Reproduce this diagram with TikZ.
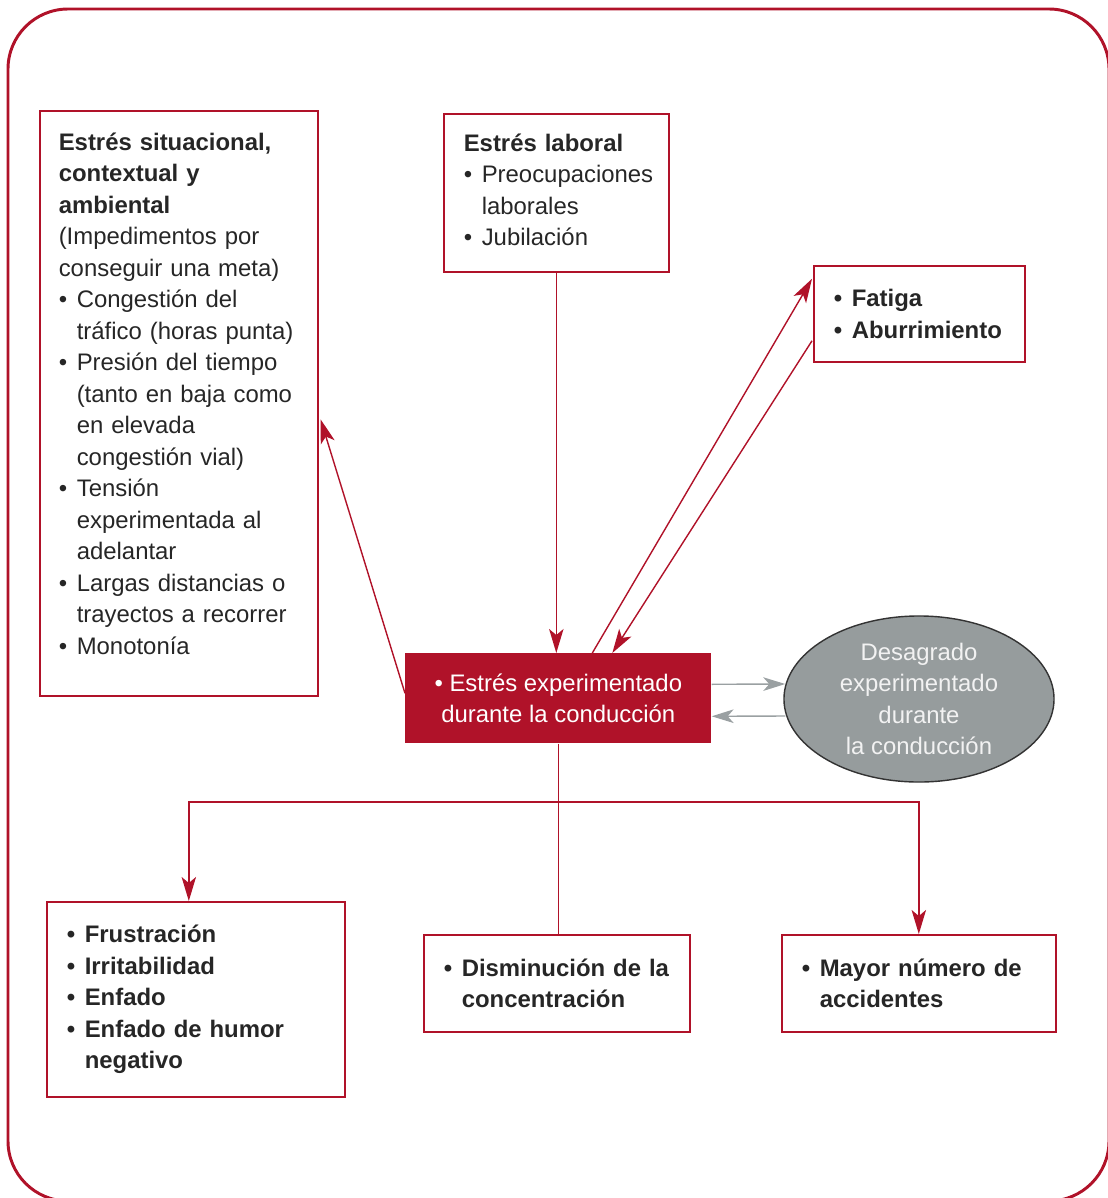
\documentclass[tikz,border=0pt]{standalone}
\usepackage{fontspec}
\setmainfont{Liberation Sans}
\usepackage{tikz}
\usetikzlibrary{calc,shapes.geometric,arrows.meta}

\definecolor{estred}{HTML}{B01229}
\definecolor{estgray}{HTML}{969C9D}
\definecolor{arrgray}{HTML}{9AA0A2}

\newcommand{\itemdot}{\makebox[0.45cm][l]{\textbullet}}
\newcommand{\itemgap}{\hspace*{0.45cm}}

\begin{document}
\begin{tikzpicture}[x=0.025cm, y=-0.025cm,
    txt/.style={font=\fontsize{17}{22.4}\selectfont, text=black!85},
    box/.style={txt, draw=estred, line width=1.1pt, anchor=north west, align=left, inner xsep=0.5cm},
    link/.style={estred, line width=1pt},
    tip/.style={-{Stealth[length=0.6cm, width=0.36cm, inset=0.15cm]}},
    glink/.style={arrgray, line width=1pt, -{Stealth[length=0.55cm, width=0.34cm, inset=0.15cm]}}]
    \useasboundingbox (0,0) rectangle (1107,1198);
    \draw[estred, line width=2.1pt, rounded corners=1.5cm] (8,9) rectangle (1109,1201);

    % upper boxes
    \node[box, inner xsep=0.475cm, text width=6cm, minimum height=14.625cm] (sit) at (39,110)
        {\textbf{Estrés situacional,}\\ \textbf{contextual y}\\ \textbf{ambiental}\\
         (Impedimentos por\\ conseguir una meta)\\
         \itemdot Congestión del\\ \itemgap tráfico (horas punta)\\
         \itemdot Presión del tiempo\\ \itemgap (tanto en baja como\\ \itemgap en elevada\\ \itemgap congestión vial)\\
         \itemdot Tensión\\ \itemgap experimentada al\\ \itemgap adelantar\\
         \itemdot Largas distancias o\\ \itemgap trayectos a recorrer\\
         \itemdot Monotonía\rule[-0.5cm]{0pt}{0.5cm}};
    \node[box, text width=4.625cm, minimum height=3.95cm] (lab) at (443,113)
        {\textbf{Estrés laboral}\\ \itemdot Preocupaciones\\ \itemgap laborales\\ \itemdot Jubilación\rule[-0.15cm]{0pt}{0.15cm}};
    \node[box, text width=4.275cm, minimum height=2.4cm] (fat) at (813,265)
        {\textbf{\itemdot Fatiga}\\ \textbf{\itemdot Aburrimiento}};

    % centre
    \node[txt, fill=estred, text=white, align=center, minimum width=7.65cm, minimum height=2.25cm,
        anchor=north west] (cen) at (405,653)
        {\textbullet\ Estrés experimentado\\ durante la conducción};
    \node[txt, ellipse, draw=black!80, line width=1pt, fill=estgray, text=white!95!black, align=center,
        minimum width=6.75cm, minimum height=4.15cm, inner sep=0pt] (des) at (919,699)
        {Desagrado\\ experimentado\\ durante\\ la conducción};

    % lower boxes
    \node[box, text width=6.45cm, minimum height=4.875cm] (fru) at (46,901)
        {\textbf{\itemdot Frustración}\\ \textbf{\itemdot Irritabilidad}\\ \textbf{\itemdot Enfado}\\
         \textbf{\itemdot Enfado de humor}\\ \textbf{\itemgap negativo}};
    \node[box, text width=5.65cm, minimum height=2.425cm] (con) at (423,934)
        {\textbf{\itemdot Disminución de la}\\ \textbf{\itemgap concentración}};
    \node[box, text width=5.85cm, minimum height=2.425cm] (acc) at (781,934)
        {\textbf{\itemdot Mayor número de}\\ \textbf{\itemgap accidentes}};

    \draw[link, tip] (lab.south) -- (lab.south |- cen.north);
    \draw[link, tip] ($(cen.west)+(0,-5)$) -- ($(sit.east)+(2,16)$);
    \draw[link, tip] ($(cen.north)+(34,0)$) -- ($(fat.west)+(-1,-35)$);
    \draw[link, tip] ($(fat.west)+(-1,27)$) -- ($(cen.north)+(54,0)$);
    \draw[glink] ($(cen.east)+(0,-14)$) -- ($(des.west)+(2,-15)$);
    \draw[glink] ($(des.west)+(2,17)$) -- ($(cen.east)+(0,18)$);

    \coordinate (split) at (557,802);
    \draw[link] (cen.south) -- (cen.south |- con.north);
    \draw[link, tip] (split) -| ($(fru.north)+(-7,0)$);
    \draw[link, tip] (split) -| (acc.north);
\end{tikzpicture}
\end{document}
